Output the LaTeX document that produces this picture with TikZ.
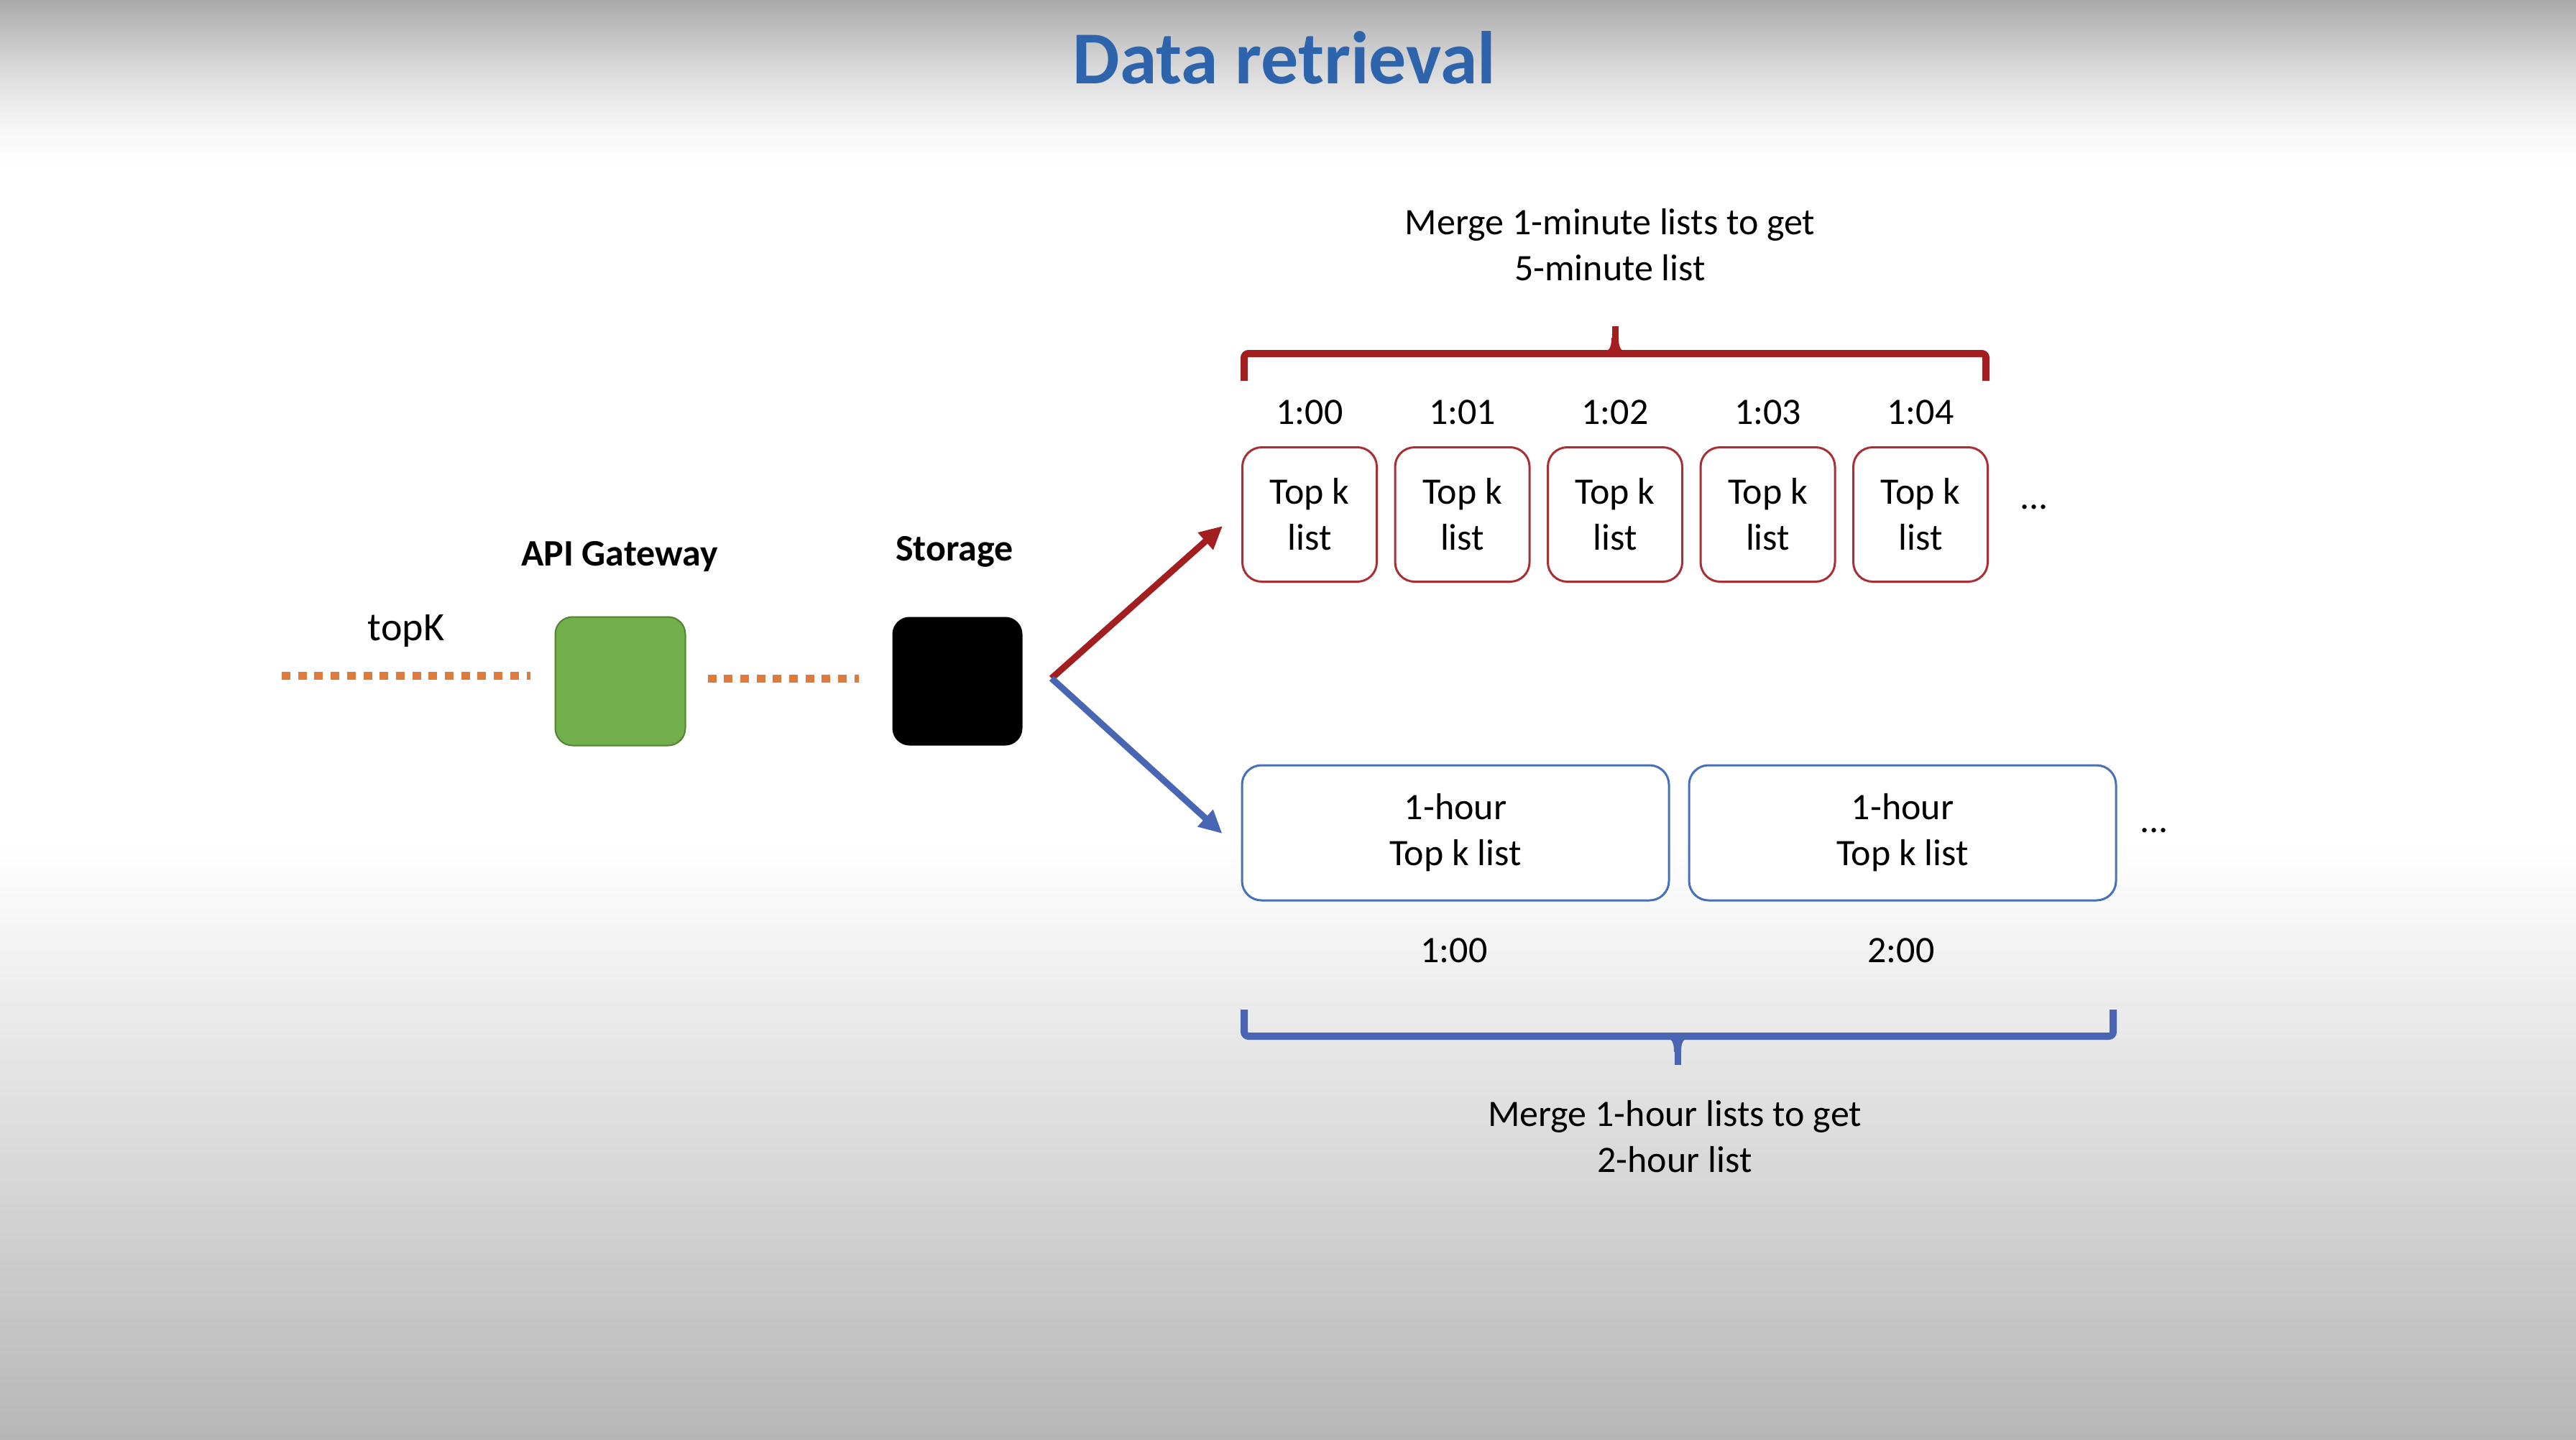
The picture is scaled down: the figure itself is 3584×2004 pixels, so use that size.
\documentclass[tikz,border=0pt]{standalone}
\usepackage{fontspec}
\setmainfont{Carlito}
\usetikzlibrary{arrows.meta,calc}
\definecolor{ttl}{RGB}{46,100,172}
\definecolor{dred}{RGB}{163,30,30}
\definecolor{boxred}{RGB}{168,48,52}
\definecolor{dblue}{RGB}{72,102,180}
\definecolor{boxblue}{RGB}{70,112,188}
\definecolor{orng}{RGB}{222,122,60}
\definecolor{grn}{RGB}{114,175,74}
\definecolor{grnb}{RGB}{84,130,53}
\definecolor{bgtop}{RGB}{170,170,170}
\definecolor{bgbot}{RGB}{183,183,183}
\begin{document}
\begin{tikzpicture}[x=1pt,y=-1pt,
  body/.style={font=\fontsize{52}{64}\selectfont, align=center, inner sep=0pt},
  bodyb/.style={font=\bfseries\fontsize{52}{64}\selectfont, align=center, inner sep=0pt},
  minbox/.style={draw=boxred, line width=3pt, rounded corners=27pt, minimum width=187pt, minimum height=187pt, body, fill=white},
  hourbox/.style={draw=boxblue, line width=3pt, rounded corners=27pt, minimum width=594pt, minimum height=188pt, body, fill=white},
  service/.style={rounded corners=24pt, minimum width=181pt, minimum height=179pt, inner sep=0pt},
  dotline/.style={orng, line width=11pt, dash pattern=on 12pt off 10.7pt},
  redarrow/.style={dred, line width=9pt, -{Triangle[length=32pt,width=30pt]}},
  bluearrow/.style={dblue, line width=9pt, -{Triangle[length=32pt,width=30pt]}},
  bracered/.style={dred, line width=10pt, rounded corners=6pt},
  braceblue/.style={dblue, line width=10pt, rounded corners=6pt}
]
% background
\useasboundingbox (0,0) rectangle (3584,2004);
\fill[white] (0,0) rectangle (3584,2004);
\foreach \k in {0,...,59}{
  \pgfmathsetmacro\p{100*(1-\k/60)^1.6}
  \fill[bgtop!\p!white] (0,\k*4) rectangle (3584,\k*4+4.5);
}
\foreach \k in {0,...,82}{
  \pgfmathsetmacro\p{100*(\k+0.5)/83}
  \fill[bgbot!\p!white] (0,1175+\k*10) rectangle (3584,1175+\k*10+10.5);
}

% title
\node[font=\bfseries\fontsize{104}{120}\selectfont, text=ttl, inner sep=0pt] (title) at (1787,80) {Data retrieval};

% left part
\node[body, font=\fontsize{56}{66}\selectfont] (topk) at (565,878) {topK};
\node[service, fill=grn, draw=grnb, line width=2pt] (gw) at (863,948) {};
\node[bodyb] (gwl) at (862,775) {API Gateway};
\node[service, fill=black] (st) at (1332,948) {};
\node[bodyb] (stl) at (1328,768) {Storage};
\coordinate (in) at (392,940);
\draw[dotline] (in) -- ($(gw.west)+(-34,-8)$);
\draw[dotline] ($(gw.east)+(30,-4)$) -- ($(st.west)+(-46,-4)$);

% minute boxes
\foreach \i/\x/\t in {1/1822/1:00,2/2034.5/1:01,3/2247/1:02,4/2459.5/1:03,5/2672/1:04}{
  \node[minbox] (m\i) at (\x,716) {Top k\\list};
  \node[body] (mt\i) at (\x,574) {\t};
}
\node[body] (mdots) at (2830,706) {...};

% hour boxes
\node[hourbox] (h1) at (2025,1159) {1-hour\\Top k list};
\node[hourbox] (h2) at (2647,1159) {1-hour\\Top k list};
\node[body] (ht1) at (2023,1323) {1:00};
\node[body] (ht2) at (2645,1323) {2:00};
\node[body] (hdots) at (2997,1156) {...};

% arrows
\coordinate (split) at (1463,944);
\draw[redarrow] (split) -- ($(m1.west)+(-26,16)$);
\draw[bluearrow] (split) -- ($(h1.west)+(-26,1)$);

% top brace
\draw[bracered] (1731,530) -- (1731,492) -- (2763,492) -- (2763,530);
\draw[dred, line width=9pt] (2247,492) -- (2247,454);
\fill[dred] (2236,488) .. controls (2241,486) and (2242,478) .. (2242,470) -- (2252,470) .. controls (2252,478) and (2253,486) .. (2258,488) -- cycle;
\node[body] (mtop) at (2240,341) {Merge 1-minute lists to get\\5-minute list};

% bottom brace
\draw[braceblue] (1731,1405) -- (1731,1442) -- (2940,1442) -- (2940,1405);
\draw[dblue, line width=9pt] (2334,1442) -- (2334,1482);
\fill[dblue] (2323,1446) .. controls (2328,1448) and (2329,1456) .. (2329,1464) -- (2339,1464) .. controls (2339,1456) and (2340,1448) .. (2345,1446) -- cycle;
\node[body] (mbot) at (2330,1582) {Merge 1-hour lists to get\\2-hour list};
\end{tikzpicture}
\end{document}
